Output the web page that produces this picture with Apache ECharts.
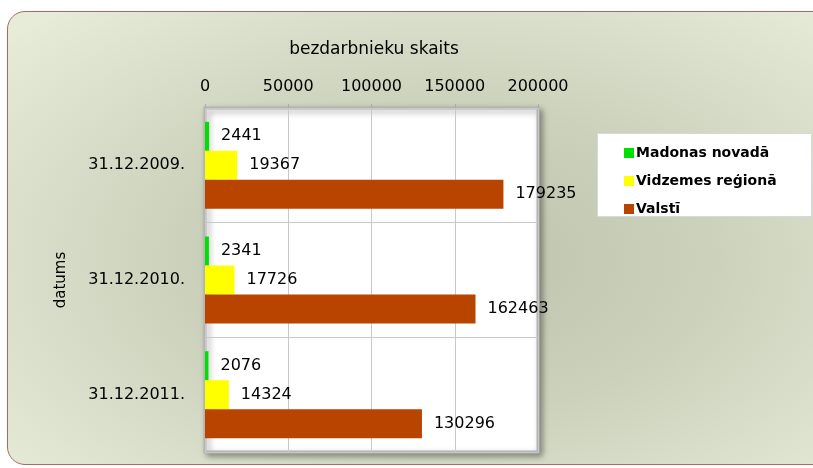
<!DOCTYPE html>
<html>
<head>
<meta charset="utf-8">
<script src="https://cdn.jsdelivr.net/npm/echarts@6/dist/echarts.min.js"></script>
<style>
  html, body { margin: 0; padding: 0; background: #fff; }
  #frame {
    position: absolute; left: 7px; top: 11px; width: 840px; height: 452px;
    border: 1px solid #b06858; border-radius: 18px;
    background: radial-gradient(ellipse 70% 75% at 52% 55%, #bcc3ab 0%, #cbd1bb 45%, #e6ecd8 100%);
  }
  #chart { position: absolute; left: 0; top: 0; width: 813px; height: 468px; }
</style>
</head>
<body>
<div id="frame"></div>
<div id="chart"></div>
<script>
// datumi un vērtības
const categories = ['31.12.2009.', '31.12.2010.', '31.12.2011.'];
const madona = [2441, 2341, 2076];
const vidzeme = [19367, 17726, 14324];
const valsts = [179235, 162463, 130296];
const seriesNames = ['Madonas novadā', 'Vidzemes reģionā', 'Valstī'];
const seriesColors = ['#00e000', '#ffff00', '#b84400'];

const chart = echarts.init(document.getElementById('chart'), null, { renderer: 'canvas' });

const labelStyle = {
  show: true, position: 'right', distance: 12,
  fontFamily: 'DejaVu Sans', fontSize: 16, color: '#000'
};

const mkSeries = (name, data, color) => ({
  name: name,
  type: 'bar',
  data: data,
  barWidth: 29,
  barGap: '0%',
  itemStyle: { color: color },
  label: labelStyle,
  silent: true,
});

chart.setOption({
  animation: false,
  backgroundColor: 'transparent',
  graphic: [{
    type: 'rect', left: 597, top: 133,
    shape: { width: 214, height: 83 },
    style: { fill: '#fff', stroke: '#d8d8d8', lineWidth: 1 },
    z: 0
  }],
  legend: {
    orient: 'vertical', left: 619, top: 139,
    itemWidth: 10, itemHeight: 10, itemGap: 10, icon: 'rect',
    data: seriesNames,
    textStyle: { fontFamily: 'DejaVu Sans', fontWeight: 'bold', fontSize: 14, color: '#000', lineHeight: 18, padding: [0, 0, 0, -3] },
    z: 5
  },
  grid: {
    left: 205, right: 275, top: 108, bottom: 16,
    show: true, backgroundColor: '#fff',
    borderColor: '#b4b4b4', borderWidth: 3,
    shadowColor: 'rgba(0,0,0,0.35)', shadowBlur: 6, shadowOffsetX: 3, shadowOffsetY: 3
  },
  xAxis: {
    type: 'value', position: 'top',
    min: 0, max: 200000, interval: 50000,
    name: 'bezdarbnieku skaits', nameLocation: 'middle', nameGap: 50,
    nameTextStyle: { fontFamily: 'DejaVu Sans', fontSize: 17, color: '#000', padding: [0, 0, 0, 5] },
    axisLine: { show: false },
    axisTick: { show: true, length: 4, lineStyle: { color: '#aaa' } },
    axisLabel: { fontFamily: 'DejaVu Sans', fontSize: 16, color: '#000', margin: 13, formatter: v => String(v) },
    splitLine: { show: true, lineStyle: { color: '#c8c8c8', width: 1 } }
  },
  yAxis: {
    type: 'category', inverse: true, data: categories,
    name: 'datums', nameLocation: 'middle', nameGap: 136,
    nameTextStyle: { fontFamily: 'DejaVu Sans', fontSize: 15, color: '#000' },
    axisLine: { show: false },
    axisTick: { show: false },
    axisLabel: { fontFamily: 'DejaVu Sans', fontSize: 16, color: '#000', margin: 20 },
    splitLine: { show: true, lineStyle: { color: '#c8c8c8', width: 1 } }
  },
  series: [
    mkSeries(seriesNames[0], madona, seriesColors[0]),
    mkSeries(seriesNames[1], vidzeme, seriesColors[1]),
    mkSeries(seriesNames[2], valsts, seriesColors[2])
  ]
});
</script>
</body>
</html>
